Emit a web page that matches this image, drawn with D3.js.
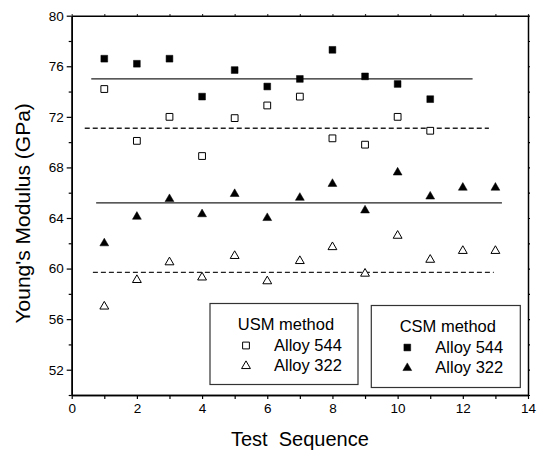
<!doctype html>
<html>

<head>
	<meta charset="utf-8">
	<title>Young's Modulus</title>
	<script src="https://d3js.org/d3.v7.min.js"></script>
	<style>
		body { margin: 0; background: #fff; }
		text { font-family: "Liberation Sans", Arial, sans-serif; fill: #000; }
	</style>
</head>

<body>
	<div id="chart"></div>
	<script>
		// test sequence numbers
		const seq544 = [1, 2, 3, 4, 5, 6, 7, 8, 9, 10, 11];
		const seq322 = [1, 2, 3, 4, 5, 6, 7, 8, 9, 10, 11, 12, 13];

		// modulus values (GPa)
		const csm544 = [76.6, 76.2, 76.6, 73.6, 75.7, 74.4, 75.0, 77.3, 75.2, 74.6, 73.4];
		const usm544 = [74.2, 70.1, 72.0, 68.9, 71.9, 72.9, 73.6, 70.3, 69.8, 72.0, 70.9];
		const csm322 = [62.0, 64.1, 65.5, 64.3, 65.9, 64.0, 65.6, 66.7, 64.6, 67.6, 65.7, 66.4, 66.4];
		const usm322 = [57.0, 59.1, 60.5, 59.3, 61.0, 59.0, 60.6, 61.7, 59.6, 62.6, 60.7, 61.4, 61.4];

		// average lines: [value, x start, x end]
		const avgCsm544 = [75.0, 0.6, 12.3];
		const avgUsm544 = [71.1, 0.4, 12.8];
		const avgCsm322 = [65.2, 0.75, 13.2];
		const avgUsm322 = [59.7, 0.65, 12.95];

		const xTicks = [0, 2, 4, 6, 8, 10, 12, 14];
		const xMinor = [1, 3, 5, 7, 9, 11, 13];
		const yTicks = [52, 56, 60, 64, 68, 72, 76, 80];
		const yMinor = [50, 54, 58, 62, 66, 70, 74, 78];

		const W = 538, H = 452;
		const svg = d3.select('#chart').append('svg')
			.attr('width', W)
			.attr('height', H);

		svg.append('rect').attr('width', W).attr('height', H).attr('fill', '#fff');

		const x = d3.scaleLinear().domain([0, 14]).range([71.7, 528]);
		const y = d3.scaleLinear().domain([50, 80]).range([395, 15.7]);

		// axes
		const styleAxis = g => {
			g.select('.domain').attr('stroke', '#000').attr('stroke-width', 1.5);
			g.selectAll('.tick line').attr('stroke', '#000').attr('stroke-width', 1.2);
			g.selectAll('.tick text').style('font-size', '13.5px')
				.style('font-family', '"Liberation Sans", Arial, sans-serif');
		};

		svg.append('g')
			.attr('transform', 'translate(' + x(0) + ',0)')
			.call(d3.axisLeft(y).tickValues(yMinor).tickSize(3).tickFormat('').tickSizeOuter(0))
			.call(styleAxis);
		svg.append('g')
			.attr('transform', 'translate(' + x(0) + ',0)')
			.call(d3.axisLeft(y).tickValues(yTicks).tickSize(5).tickPadding(3).tickSizeOuter(0))
			.call(styleAxis);

		svg.append('g')
			.attr('transform', 'translate(0,' + y(50) + ')')
			.call(d3.axisBottom(x).tickValues(xMinor).tickSize(4).tickFormat('').tickSizeOuter(0))
			.call(styleAxis);
		svg.append('g')
			.attr('transform', 'translate(0,' + y(50) + ')')
			.call(d3.axisBottom(x).tickValues(xTicks).tickSize(4).tickPadding(4).tickSizeOuter(0))
			.call(styleAxis);

		svg.append('g')
			.attr('transform', 'translate(' + x(14) + ',0)')
			.call(d3.axisRight(y).tickValues(yTicks.concat(yMinor)).tickSize(2).tickFormat('').tickSizeOuter(0))
			.call(styleAxis);
		svg.append('g')
			.attr('transform', 'translate(0,' + y(80) + ')')
			.call(d3.axisTop(x).tickValues(xTicks.concat(xMinor)).tickSize(1.5).tickFormat('').tickSizeOuter(0))
			.call(styleAxis);

		// axis titles
		svg.append('text')
			.attr('x', (x(0) + x(14)) / 2)
			.attr('y', 446)
			.attr('text-anchor', 'middle')
			.style('font-size', '20px')
			.style('white-space', 'pre')
			.text('Test  Sequence');

		svg.append('text')
			.attr('transform', 'translate(30,' + ((y(50) + y(80)) / 2 + 8) + ') rotate(-90)')
			.attr('text-anchor', 'middle')
			.style('font-size', '21px')
			.text("Young's Modulus (GPa)");

		// average lines
		const avgLine = (a, dashed) => {
			svg.append('line')
				.attr('x1', x(a[1])).attr('x2', x(a[2]))
				.attr('y1', y(a[0])).attr('y2', y(a[0]))
				.attr('stroke', '#222')
				.attr('stroke-width', 1.3)
				.attr('stroke-dasharray', dashed ? '5,3' : null);
		};
		avgLine(avgCsm544, false);
		avgLine(avgUsm544, true);
		avgLine(avgCsm322, false);
		avgLine(avgUsm322, true);

		// markers
		const sq = d3.symbol().type(d3.symbolSquare).size(46);
		const tri = d3.symbol().type(d3.symbolTriangle).size(34);

		const points = (xs, ys, sym, filled) => {
			svg.append('g').selectAll('path')
				.data(ys)
				.enter().append('path')
				.attr('d', sym)
				.attr('transform', (d, i) => 'translate(' + x(xs[i]) + ',' + y(d) + ')')
				.attr('fill', filled ? '#000' : '#fff')
				.attr('stroke', '#000')
				.attr('stroke-width', filled ? 0.5 : 1);
		};
		points(seq544, usm544, sq, false);
		points(seq544, csm544, sq, true);
		points(seq322, usm322, tri, false);
		points(seq322, csm322, tri, true);

		// legends
		const legend = (bx, by, bw, bh, title, filled) => {
			const g = svg.append('g').attr('transform', 'translate(' + bx + ',' + by + ')');
			g.append('rect')
				.attr('width', bw).attr('height', bh)
				.attr('fill', '#fff')
				.attr('stroke', '#333').attr('stroke-width', 1.2);
			g.append('text').attr('x', bw / 2 + 2).attr('y', 26)
				.attr('text-anchor', 'middle')
				.style('font-size', '16.5px').text(title);
			[['Alloy 544', sq], ['Alloy 322', tri]].forEach((r, i) => {
				g.append('path')
					.attr('d', r[1])
					.attr('transform', 'translate(' + 36 + ',' + (42 + i * 20.5) + ')')
					.attr('fill', filled ? '#000' : '#fff')
					.attr('stroke', '#000')
					.attr('stroke-width', filled ? 0.5 : 1);
				g.append('text').attr('x', 64).attr('y', 47 + i * 20)
					.style('font-size', '16.5px').text(r[0]);
			});
		};
		legend(210, 303.5, 148, 81, 'USM method', false);
		legend(371.3, 305.5, 149, 82, 'CSM method', true);
	</script>
</body>

</html>
